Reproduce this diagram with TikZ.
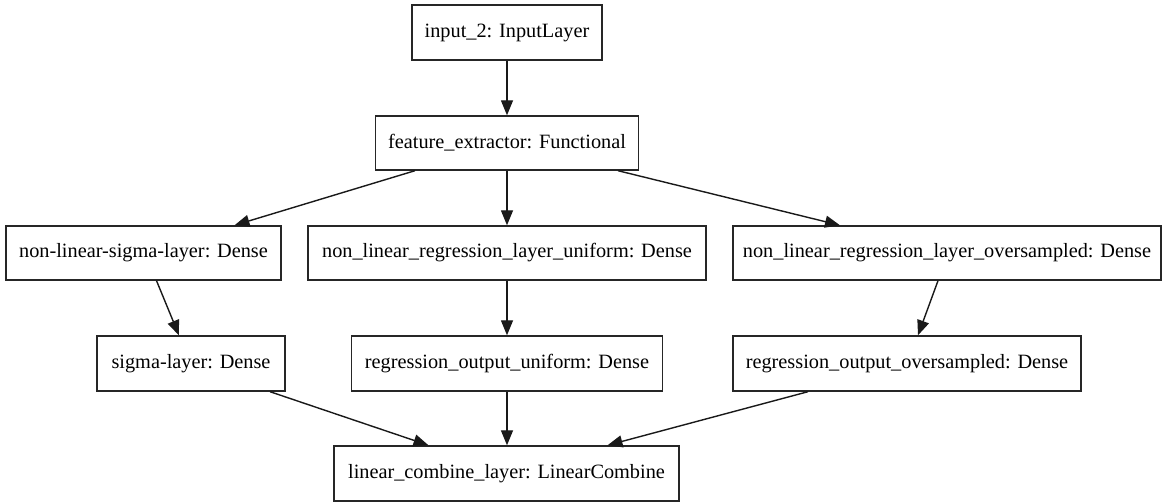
\documentclass[tikz,border=0pt]{standalone}
\usepackage{fontspec}
\setmainfont{Liberation Serif}
\usetikzlibrary{arrows.meta}
\begin{document}
\begin{tikzpicture}[x=1pt,y=-1pt,
  layer/.style={draw=black!85, line width=1.4pt, inner sep=0pt, font=\fontsize{20.3}{24}\selectfont, anchor=center},
  flow/.style={draw=black!90, line width=1.4pt, -{Triangle[length=15pt,width=12pt]}}]
  \useasboundingbox (0,0) rectangle (1163,502);
  \node[layer, minimum width=190pt, minimum height=55pt] (inp) at (507,32.5) {input\_2: InputLayer};
  \node[layer, minimum width=263pt, minimum height=54pt] (fe) at (507,143) {feature\_extractor: Functional};
  \node[layer, minimum width=275pt, minimum height=54pt] (nls) at (143.5,253) {non-linear-sigma-layer: Dense};
  \node[layer, minimum width=398pt, minimum height=54pt] (nlu) at (507,253) {non\_linear\_regression\_layer\_uniform: Dense};
  \node[layer, minimum width=428pt, minimum height=54pt] (nlo) at (947,253) {non\_linear\_regression\_layer\_oversampled: Dense};
  \node[layer, minimum width=188pt, minimum height=55pt] (sig) at (191,363.5) {sigma-layer: Dense};
  \node[layer, minimum width=311pt, minimum height=55pt] (rou) at (507,363.5) {regression\_output\_uniform: Dense};
  \node[layer, minimum width=348pt, minimum height=55pt] (roo) at (907,363.5) {regression\_output\_oversampled: Dense};
  \node[layer, minimum width=345pt, minimum height=55pt] (lc) at (506.5,473.5) {linear\_combine\_layer: LinearCombine};

  \draw[flow] (inp.south) -- (inp.south |- fe.north);
  \draw[flow] ([xshift=-92pt]fe.south) -- ([xshift=91pt]nls.north);
  \draw[flow] (fe.south) -- (fe.south |- nlu.north);
  \draw[flow] ([xshift=111pt]fe.south) -- ([xshift=-107pt]nlo.north);
  \draw[flow] ([xshift=13pt]nls.south) -- ([xshift=-12pt]sig.north);
  \draw[flow] (nlu.south) -- (nlu.south |- rou.north);
  \draw[flow] ([xshift=-9pt]nlo.south) -- ([xshift=11pt]roo.north);
  \draw[flow] ([xshift=79pt]sig.south) -- ([xshift=-78pt]lc.north);
  \draw[flow] (rou.south) -- (rou.south |- lc.north);
  \draw[flow] ([xshift=-99pt]roo.south) -- ([xshift=101pt]lc.north);
\end{tikzpicture}
\end{document}
